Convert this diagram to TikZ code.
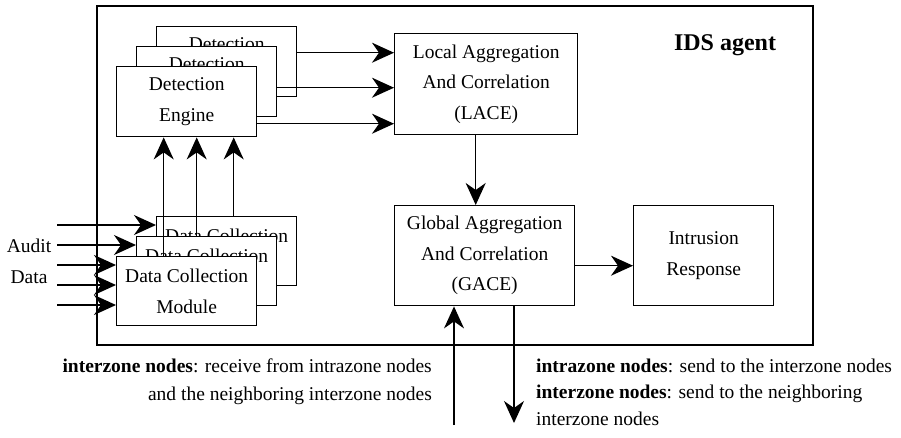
\documentclass[tikz,border=0pt]{standalone}
\usepackage{fontspec}
\setmainfont{Liberation Serif}
\usetikzlibrary{arrows.meta,calc}

\begin{document}
\begin{tikzpicture}[x=1pt,y=-1pt,
  every node/.style={font=\fontsize{19.5}{30.5}\selectfont},
  box/.style={draw, line width=1.4pt, fill=white, align=center, inner sep=0pt, anchor=north west},
  engbox/.style={box, minimum width=140pt, minimum height=70pt},
  colbox/.style={box, minimum width=140pt, minimum height=69pt},
  arr/.style={line width=1.4pt, -{Stealth[length=22pt,width=20pt,inset=7pt]}},
  label/.style={inner sep=0pt},
]
\useasboundingbox (0,0) rectangle (901,437);

% agent frame
\draw[line width=1.4pt] (97,6) rectangle (813,345);
\node[font=\fontsize{24}{28}\selectfont\bfseries] (title) at (725,45) {IDS agent};

% stacked detection engines (back to front)
\node[engbox] (de3) at (156,26) {Detection\\Engine};
\node[engbox] (de2) at (136,46) {Detection\\Engine};
\node[engbox] (de1) at (116,66) {Detection\\Engine};

% stacked data collection modules (back to front)
\node[colbox] (dc3) at (156,216) {Data Collection\\Module};
\node[colbox] (dc2) at (136,236) {Data Collection\\Module};
\node[colbox] (dc1) at (116,256) {Data Collection\\Module};

% aggregation and response
\node[box, minimum width=183pt, minimum height=101pt] (lace) at (394,33)
  {Local Aggregation\\And Correlation\\(LACE)};
\node[box, minimum width=180pt, minimum height=100pt] (gace) at (394,205)
  {Global Aggregation\\And Correlation\\(GACE)};
\node[box, minimum width=140pt, minimum height=100pt] (ir) at (633,205)
  {Intrusion\\Response};

% audit data inputs
\node[label] (audit) at (29,246) {Audit};
\node[label] (data) at (29,277) {Data};
\coordinate (in1) at (57,225);
\coordinate (in2) at (57,245);
\coordinate (in3) at (57,265);
\coordinate (in4) at (57,285);
\coordinate (in5) at (57,305);
\draw[arr] (in1) -- (in1 -| dc3.west);
\draw[arr] (in2) -- (in2 -| dc2.west);
\draw[arr] (in3) -- (in3 -| dc1.west);
\draw[arr] (in4) -- (in4 -| dc1.west);
\draw[arr] (in5) -- (in5 -| dc1.west);

% collection modules feed the detection engines
\coordinate (v1) at ([xshift=-23pt]dc1.north);
\coordinate (v2) at ([xshift=-10pt]dc2.north);
\coordinate (v3) at ([xshift=7pt]dc3.north);
\draw[arr] (v1) -- (v1 |- de1.south);
\draw[arr] (v2) -- (v2 |- de1.south);
\draw[arr] (v3) -- (v3 |- de1.south);

% detection engines report to LACE
\coordinate (h3) at ([yshift=9pt]de3.east);
\coordinate (h2) at ([yshift=-6pt]de2.east);
\coordinate (h1) at ([yshift=-22pt]de1.east);
\draw[arr] (h3) -- (h3 -| lace.west);
\draw[arr] (h2) -- (h2 -| lace.west);
\draw[arr] (h1) -- (h1 -| lace.west);

% LACE -> GACE -> response
\coordinate (l1) at ([xshift=-10.5pt]lace.south);
\draw[arr] (l1) -- (l1 |- gace.north);
\coordinate (g1) at ([yshift=-10pt]gace.east);
\draw[arr] (g1) -- (g1 -| ir.west);

% exchange with other nodes
\coordinate (upin) at (454,425);
\coordinate (downout) at (514,423);
\draw[arr] (upin) -- (upin |- gace.south);
\draw[arr] (downout |- gace.south) -- (downout);

\node[label, anchor=base east] (rx1) at (432,372) {\textbf{interzone nodes}: receive from intrazone nodes};
\node[label, anchor=base east] (rx2) at (432,400) {and the neighboring interzone nodes};
\node[label, anchor=base west] (tx1) at (536,372) {\textbf{intrazone nodes}: send to the interzone nodes};
\node[label, anchor=base west] (tx2) at (536,398) {\textbf{interzone nodes}: send to the neighboring};
\node[label, anchor=base west] (tx3) at (536,425) {interzone nodes};
\end{tikzpicture}
\end{document}
